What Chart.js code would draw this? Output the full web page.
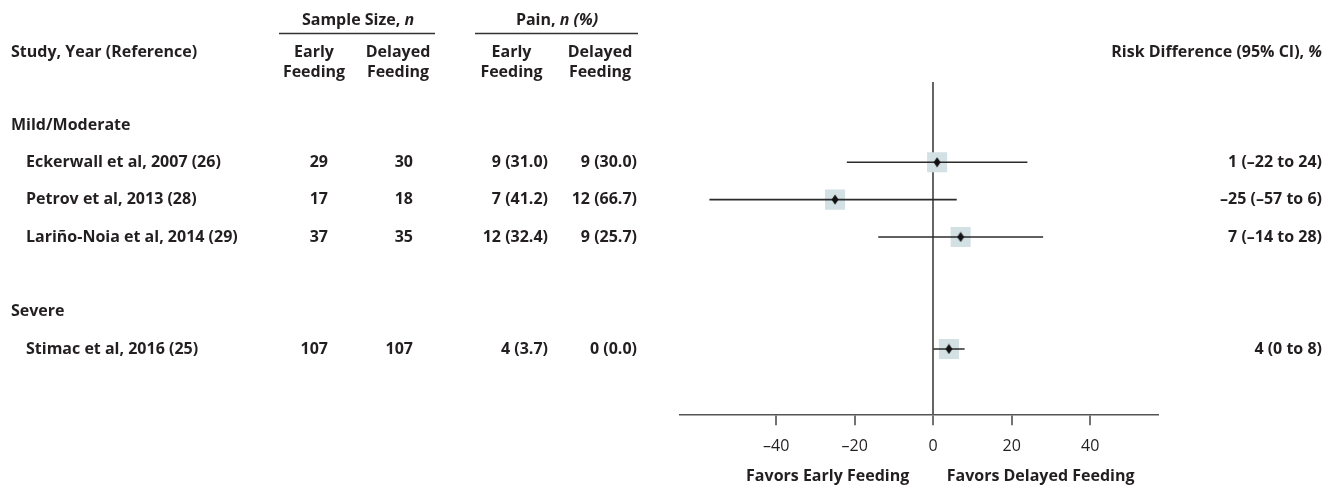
<!DOCTYPE html>
<html>
<head>
<meta charset="utf-8">
<title>Early vs Delayed Feeding: Pain</title>
<script src="https://cdn.jsdelivr.net/npm/chart.js@4.4.1/dist/chart.umd.min.js"></script>
<style>
  html, body { margin: 0; padding: 0; background: #ffffff; }
  #wrap { width: 1337px; height: 487px; }
</style>
</head>
<body>
<div id="wrap"><canvas id="forest" width="1337" height="487"></canvas></div>
<script>
// ---- data ----
const groups = ['Mild/Moderate', 'Severe'];
const studies = [
  'Eckerwall et al, 2007 (26)',
  'Petrov et al, 2013 (28)',
  'Lariño-Noia et al, 2014 (29)',
  'Stimac et al, 2016 (25)'
];
const studyGroup = [0, 0, 0, 1];
const sampleEarly = [29, 17, 37, 107];
const sampleDelayed = [30, 18, 35, 107];
const painEarly = [9, 7, 12, 4];
const painEarlyPct = [31.0, 41.2, 32.4, 3.7];
const painDelayed = [9, 12, 9, 0];
const painDelayedPct = [30.0, 66.7, 25.7, 0.0];
const riskDiff = [1, -25, 7, 4];
const ciLow = [-22, -57, -14, 0];
const ciHigh = [24, 6, 28, 8];
const xTicks = [-40, -20, 0, 20, 40];

// ---- row layout: group heading, its studies, then a blank row before the next group ----
const groupRow = [];
const studyRow = [];
{
  let r = 1;
  groups.forEach((g, gi) => {
    if (gi > 0) r += 1;
    groupRow[gi] = r++;
    studies.forEach((s, si) => { if (studyGroup[si] === gi) studyRow[si] = r++; });
  });
}

const FONT = '"Open Sans", "Noto Sans", "DejaVu Sans", sans-serif';
const INK = '#231f20';
const SQUARE = '#d3e0e4';
const TS = 16;   // table text size
const TW = 700;  // table text weight

function fnum(v) { return v < 0 ? '\u2013' + Math.abs(v) : String(v); }
function font(size, weight, italic) { return (italic ? 'italic ' : '') + weight + ' ' + size + 'px ' + FONT; }

// small black diamond used as the point estimate marker
const diamond = document.createElement('canvas');
diamond.width = 8; diamond.height = 11;
{
  const d = diamond.getContext('2d');
  d.fillStyle = '#111';
  d.beginPath();
  d.moveTo(4, 0.5); d.lineTo(7.5, 5.5); d.lineTo(4, 10.5); d.lineTo(0.5, 5.5);
  d.closePath(); d.fill();
}

function drawRich(ctx, parts, x, y, align, size, weight) {
  const widths = parts.map(p => { ctx.font = font(size, weight, p.i); return ctx.measureText(p.t).width; });
  const total = widths.reduce((a, b) => a + b, 0);
  let sx = align === 'center' ? x - total / 2 : align === 'right' ? x - total : x;
  ctx.textAlign = 'left';
  parts.forEach((p, k) => { ctx.font = font(size, weight, p.i); ctx.fillText(p.t, sx, y); sx += widths[k]; });
}

// table columns, headings and side labels
const tablePlugin = {
  id: 'forestTable',
  afterDraw(chart) {
    const ctx = chart.ctx;
    const ys = chart.scales.y;
    const xs = chart.scales.x;
    ctx.save();
    ctx.fillStyle = INK;
    ctx.textBaseline = 'middle';

    // spanning headings with rules
    drawRich(ctx, [{ t: 'Sample Size, ' }, { t: 'n', i: true }], 358, 20, 'center', TS, TW);
    drawRich(ctx, [{ t: 'Pain, ' }, { t: 'n (%)', i: true }], 557, 20, 'center', TS, TW);
    ctx.strokeStyle = '#333';
    ctx.lineWidth = 1.5;
    ctx.beginPath();
    ctx.moveTo(279, 33.5); ctx.lineTo(435, 33.5);
    ctx.moveTo(475, 33.5); ctx.lineTo(638, 33.5);
    ctx.stroke();

    // column headings
    ctx.font = font(TS, TW);
    ctx.textAlign = 'center';
    [['Early', 314], ['Delayed', 398], ['Early', 511.5], ['Delayed', 600]].forEach(([t, cx]) => {
      ctx.fillText(t, cx, 52);
      ctx.fillText('Feeding', cx, 72);
    });
    ctx.textAlign = 'left';
    ctx.fillText('Study, Year (Reference)', 11, 52);
    drawRich(ctx, [{ t: 'Risk Difference (95% CI), ' }, { t: '%', i: true }], 1322, 52, 'right', TS, TW);

    // group headings
    ctx.font = font(TS, TW);
    ctx.textAlign = 'left';
    groups.forEach((g, gi) => ctx.fillText(g, 11, ys.getPixelForValue(groupRow[gi])));

    // study rows
    studies.forEach((s, i) => {
      const py = ys.getPixelForValue(studyRow[i]);
      ctx.textAlign = 'left';
      ctx.fillText(s, 26, py);
      ctx.textAlign = 'right';
      ctx.fillText(String(sampleEarly[i]), 328, py);
      ctx.fillText(String(sampleDelayed[i]), 413, py);
      ctx.fillText(painEarly[i] + ' (' + painEarlyPct[i].toFixed(1) + ')', 548, py);
      ctx.fillText(painDelayed[i] + ' (' + painDelayedPct[i].toFixed(1) + ')', 637, py);
      ctx.fillText(fnum(riskDiff[i]) + ' (' + fnum(ciLow[i]) + ' to ' + fnum(ciHigh[i]) + ')', 1322, py);
    });

    // direction labels under the axis
    const x0 = xs.getPixelForValue(0);
    ctx.textAlign = 'right';
    ctx.fillText('Favors Early Feeding', x0 - 24, 476);
    ctx.textAlign = 'left';
    ctx.fillText('Favors Delayed Feeding', x0 + 13.5, 476);
    ctx.restore();
  }
};

// datasets: CI whiskers, weight squares, point estimate diamonds
const datasets = [];
studies.forEach((s, i) => {
  datasets.push({
    type: 'line',
    data: [{ x: ciLow[i], y: studyRow[i] }, { x: ciHigh[i], y: studyRow[i] }],
    borderColor: '#2b2b2b',
    borderWidth: 1.6,
    pointRadius: 0,
    order: 2
  });
});
datasets.push({
  type: 'scatter',
  data: riskDiff.map((v, i) => ({ x: v, y: studyRow[i] })),
  pointStyle: 'rect',
  pointRadius: 14.2,
  backgroundColor: SQUARE,
  borderWidth: 0,
  order: 3
});
datasets.push({
  type: 'scatter',
  data: riskDiff.map((v, i) => ({ x: v, y: studyRow[i] })),
  pointStyle: diamond,
  pointRadius: 5,
  order: 1
});

new Chart(document.getElementById('forest'), {
  type: 'scatter',
  data: { datasets },
  plugins: [tablePlugin],
  options: {
    responsive: false,
    devicePixelRatio: 1,
    animation: false,
    events: [],
    layout: { padding: { left: 680, right: 177.7, top: 82, bottom: 27.7 } },
    plugins: { legend: { display: false }, tooltip: { enabled: false } },
    scales: {
      x: {
        type: 'linear',
        min: -64.5,
        max: 57.6,
        afterBuildTicks: (scale) => { scale.ticks = xTicks.map(v => ({ value: v })); },
        afterFit: (scale) => { scale.height = 45; },
        border: { display: true, color: '#555', width: 1.5 },
        grid: {
          drawOnChartArea: true,
          color: (c) => (c.tick && c.tick.value === 0 ? '#666' : 'rgba(0,0,0,0)'),
          lineWidth: (c) => (c.tick && c.tick.value === 0 ? 2 : 0),
          tickColor: '#444',
          tickWidth: 1.5,
          tickLength: 11
        },
        ticks: {
          padding: 12,
          color: INK,
          font: { family: FONT, size: 16, weight: 400 },
          callback: (v) => fnum(v),
          maxRotation: 0
        }
      },
      y: {
        type: 'linear',
        display: false,
        reverse: true,
        min: -0.15,
        max: 8.75
      }
    }
  }
});
</script>
</body>
</html>
